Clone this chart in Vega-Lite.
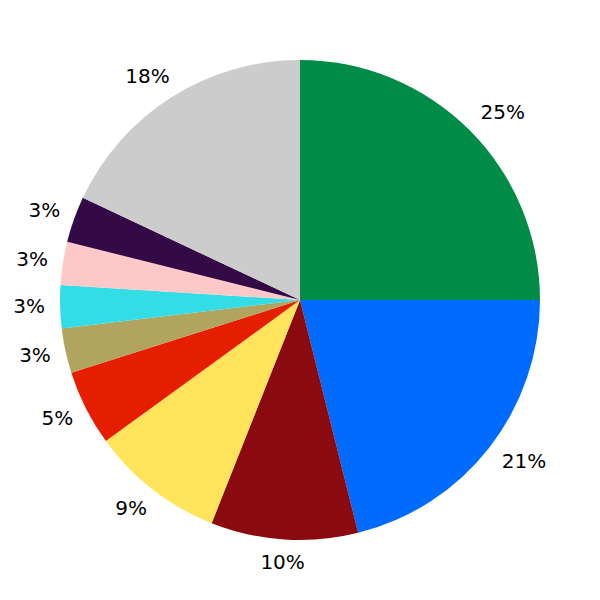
{
  "$schema": "https://vega.github.io/schema/vega-lite/v6.json",
  "width": 600,
  "height": 600,
  "autosize": {"type": "fit", "contains": "padding"},
  "padding": 0,
  "background": "white",
  "config": {"view": {"stroke": null}},
  "data": {
    "values": [
      {"k": 1, "label": "25%", "value": 25.0},
      {"k": 2, "label": "21%", "value": 21.1},
      {"k": 3, "label": "10%", "value": 9.9},
      {"k": 4, "label": "9%", "value": 9.0},
      {"k": 5, "label": "5%", "value": 5.1},
      {"k": 6, "label": "3%", "value": 3.0},
      {"k": 7, "label": "3%", "value": 2.9},
      {"k": 8, "label": "3%", "value": 2.9},
      {"k": 9, "label": "3%", "value": 3.1},
      {"k": 10, "label": "18%", "value": 18.0}
    ]
  },
  "encoding": {
    "theta": {"field": "value", "type": "quantitative", "stack": true},
    "order": {"field": "k", "type": "quantitative", "sort": "ascending"}
  },
  "layer": [
    {
      "mark": {"type": "arc", "outerRadius": 240},
      "encoding": {
        "color": {
          "field": "k",
          "type": "nominal",
          "legend": null,
          "scale": {
            "domain": [1, 2, 3, 4, 5, 6, 7, 8, 9, 10],
            "range": ["#008b46", "#006cff", "#8b0a0f", "#ffe35a", "#e61e00", "#b0a45f", "#33dde6", "#ffc8c8", "#330a45", "#cccccc"]
          }
        }
      }
    },
    {
      "mark": {"type": "text", "radius": 264, "dx": 16, "fontSize": 20, "font": "DejaVu Sans", "fill": "black", "align": "center", "baseline": "middle"},
      "encoding": {"text": {"condition": {"test": "datum.k <= 2", "field": "label"}, "value": ""}}
    },
    {
      "mark": {"type": "text", "radius": 264, "fontSize": 20, "font": "DejaVu Sans", "fill": "black", "align": "center", "baseline": "middle"},
      "encoding": {"text": {"condition": {"test": "datum.k == 3", "field": "label"}, "value": ""}}
    },
    {
      "mark": {"type": "text", "radius": 264, "dx": -7, "fontSize": 20, "font": "DejaVu Sans", "fill": "black", "align": "center", "baseline": "middle"},
      "encoding": {"text": {"condition": {"test": "datum.k >= 4 && datum.k <= 9", "field": "label"}, "value": ""}}
    },
    {
      "mark": {"type": "text", "radius": 264, "dx": -11, "fontSize": 20, "font": "DejaVu Sans", "fill": "black", "align": "center", "baseline": "middle"},
      "encoding": {"text": {"condition": {"test": "datum.k == 10", "field": "label"}, "value": ""}}
    }
  ]
}
